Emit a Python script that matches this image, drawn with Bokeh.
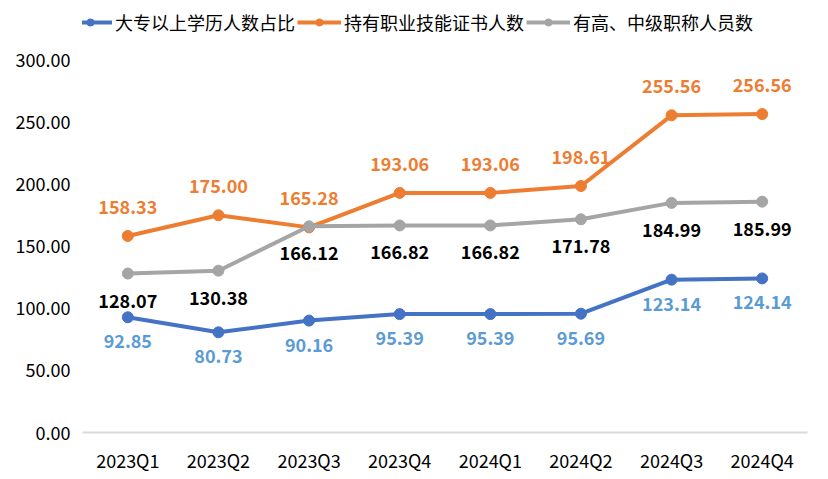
from bokeh.plotting import figure
from bokeh.models import FixedTicker, Legend, LegendItem, ColumnDataSource, Range1d, NumeralTickFormatter
from bokeh.core.properties import value
from bokeh.embed import file_html
from bokeh.resources import INLINE

categories = ["2023Q1", "2023Q2", "2023Q3", "2023Q4", "2024Q1", "2024Q2", "2024Q3", "2024Q4"]
names = ["大专以上学历人数占比", "持有职业技能证书人数", "有高、中级职称人员数"]
edu_ratio = [92.85, 80.73, 90.16, 95.39, 95.39, 95.69, 123.14, 124.14]
skill_cert = [158.33, 175.00, 165.28, 193.06, 193.06, 198.61, 255.56, 256.56]
title_staff = [128.07, 130.38, 166.12, 166.82, 166.82, 171.78, 184.99, 185.99]
y_ticks = [0, 50, 100, 150, 200, 250, 300]

FONT = "Noto Sans CJK SC"
colors = ["#4472C4", "#ED7D31", "#A5A5A5"]
label_colors = ["#5B9BD5", "#ED7D31", "#000000"]
offsets = [-24, 29, -27]

p = figure(x_range=categories, y_range=Range1d(0, 340), width=828, height=479,
           output_backend="svg", toolbar_location=None,
           min_border_left=82, min_border_right=21, min_border_top=10, min_border_bottom=47)
p.outline_line_color = None
p.xgrid.grid_line_color = None
p.ygrid.grid_line_color = None

items = []
for name, vals, c, lc, off in zip(names, [edu_ratio, skill_cert, title_staff], colors, label_colors, offsets):
    src = ColumnDataSource(dict(x=categories, y=vals, t=["%.2f" % v for v in vals]))
    r1 = p.line("x", "y", source=src, line_color=c, line_width=4)
    r2 = p.scatter("x", "y", source=src, size=11, fill_color=c, line_color=c)
    p.text("x", "y", text="t", source=src, text_color=lc, text_font=value(FONT),
           text_font_size="18px", text_font_style="bold", text_align="center",
           text_baseline="middle", y_offset=-off)
    items.append(LegendItem(label=name, renderers=[r1, r2]))

legend = Legend(items=items, orientation="horizontal", location=(-14, 397),
                label_text_font=FONT, label_text_font_size="18px", label_text_color="#000000",
                glyph_width=44, glyph_height=18, label_standoff=3, spacing=2,
                padding=0, margin=0, border_line_color=None, background_fill_alpha=0)
p.add_layout(legend, "center")

p.yaxis.ticker = FixedTicker(ticks=y_ticks)
p.yaxis.formatter = NumeralTickFormatter(format="0.00")
p.yaxis.axis_line_color = None
p.yaxis.major_tick_line_color = None
p.yaxis.minor_tick_line_color = None
p.yaxis.major_tick_out = 0
p.yaxis.major_label_text_font = FONT
p.yaxis.major_label_text_font_size = "18px"
p.yaxis.major_label_text_color = "#000000"
p.yaxis.major_label_standoff = 12

p.xaxis.axis_line_color = "#D9D9D9"
p.xaxis.axis_line_width = 2
p.xaxis.major_tick_line_color = None
p.xaxis.minor_tick_line_color = None
p.xaxis.major_tick_out = 0
p.xaxis.major_label_text_font = FONT
p.xaxis.major_label_text_font_size = "18px"
p.xaxis.major_label_text_color = "#000000"
p.xaxis.major_label_standoff = 14
p.x_range.range_padding = 0

open("out.html", "w").write(file_html(p, INLINE))
